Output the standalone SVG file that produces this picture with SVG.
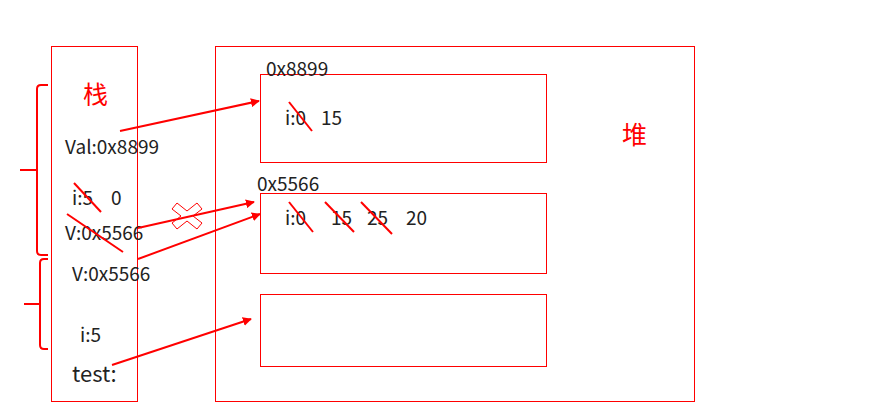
<svg xmlns="http://www.w3.org/2000/svg" width="884" height="415" viewBox="0 0 884 415">
<style>
.box{fill:none;stroke:#ff0000;stroke-width:1}
.t{font-family:"Noto Sans CJK SC","Noto Sans",sans-serif;font-size:19px;fill:#222}
.big{font-family:"Noto Sans CJK SC",sans-serif;font-size:25px;fill:#ff0000}
.strike{stroke:#ff0000;stroke-width:2;fill:none}
.arrow{stroke:#ff0000;stroke-width:2;fill:none;marker-end:url(#ah)}
.brace{stroke:#ff0000;stroke-width:2;fill:none}
</style>
<defs>
<marker id="ah" viewBox="0 0 10 10" refX="9" refY="5" markerWidth="4.5" markerHeight="4.5" orient="auto" markerUnits="strokeWidth">
<path d="M0,0 L10,5 L0,10 z" fill="#ff0000"/>
</marker>
</defs>
<rect width="884" height="415" fill="#ffffff"/>
<g id="stack">
<rect class="box" x="51.5" y="46.5" width="86" height="355"/>
<text class="big" x="83" y="104">栈</text>
<text class="t" x="65" y="154">Val:0x8899</text>
<text class="t" x="72" y="205">i:5</text>
<text class="t" x="111" y="205">0</text>
<text class="t" x="65" y="240">V:0x5566</text>
<text class="t" x="72" y="281">V:0x5566</text>
<text class="t" x="80" y="342">i:5</text>
<text class="t" x="72" y="382" style="font-size:22px">test:</text>
<line class="strike" x1="74" y1="183" x2="101" y2="212"/>
<line class="strike" x1="67" y1="214" x2="123" y2="252"/>
</g>
<g id="braces">
<path class="brace" d="M48,85 H41 Q37,85 37,89 V251 Q37,255 41,255 H48"/>
<line class="brace" x1="20" y1="170" x2="37" y2="170"/>
<path class="brace" d="M48,259 H44 Q40,259 40,263 V345 Q40,349 44,349 H48"/>
<line class="brace" x1="24" y1="304" x2="40" y2="304"/>
</g>
<g id="heap">
<rect class="box" x="215.5" y="46.5" width="479" height="355"/>
<text class="big" x="622" y="144">堆</text>
</g>
<g id="obj1">
<rect class="box" x="260.5" y="74.5" width="286" height="88"/>
<text class="t" x="266" y="76">0x8899</text>
<text class="t" x="285" y="125">i:0</text>
<text class="t" x="321" y="125">15</text>
<line class="strike" x1="289" y1="102" x2="312" y2="131"/>
</g>
<g id="obj2">
<rect class="box" x="260.5" y="193.5" width="286" height="80"/>
<text class="t" x="257" y="191">0x5566</text>
<text class="t" x="285" y="225">i:0</text>
<text class="t" x="331" y="225">15</text>
<text class="t" x="367" y="225">25</text>
<text class="t" x="406" y="225">20</text>
<line class="strike" x1="289" y1="202" x2="313" y2="232"/>
<line class="strike" x1="325" y1="202" x2="354" y2="232"/>
<line class="strike" x1="361" y1="202" x2="392" y2="234"/>
</g>
<g id="obj3">
<rect class="box" x="260.5" y="294.5" width="286" height="72"/>
</g>
<g id="connectors">
<line class="arrow" x1="120" y1="131" x2="259" y2="101"/>
<line class="arrow" x1="138" y1="228" x2="254" y2="202"/>
<line class="arrow" x1="138" y1="259" x2="260" y2="214"/>
<line class="arrow" x1="112" y1="365" x2="251" y2="319"/>
<polygon points="172,209 177,203 187,211 197,203 202,209 193,216 202,223 197,229 187,221 177,229 172,223 181,216" fill="none" stroke="#ff0000" stroke-width="1"/>
</g>
</svg>
